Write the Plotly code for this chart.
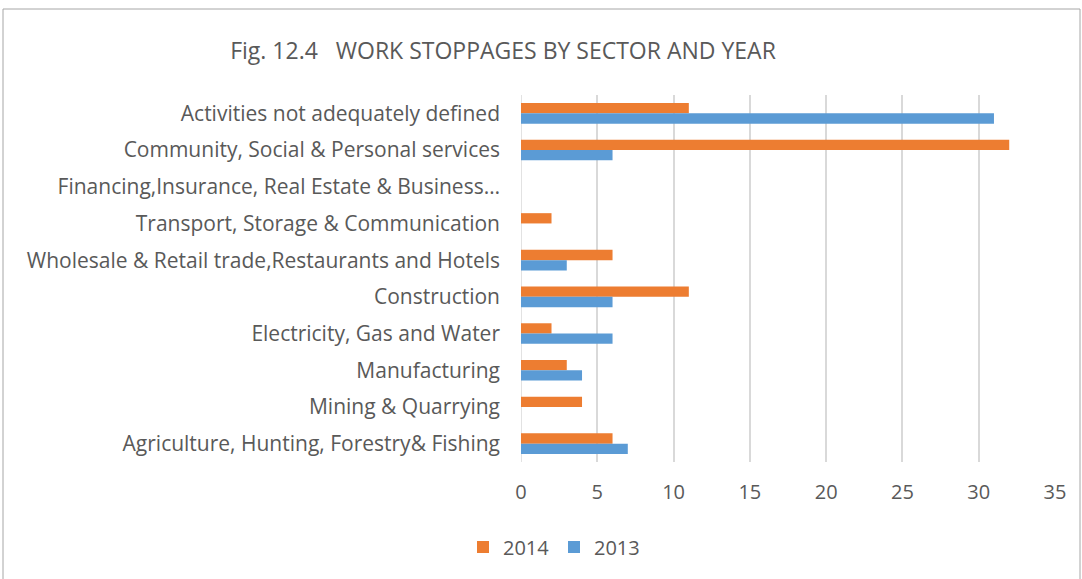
import plotly.graph_objects as go

categories = [
    "Activities not adequately defined",
    "Community, Social & Personal services",
    "Financing,Insurance, Real Estate & Business…",
    "Transport, Storage & Communication",
    "Wholesale & Retail trade,Restaurants and Hotels",
    "Construction",
    "Electricity, Gas and Water",
    "Manufacturing",
    "Mining & Quarrying",
    "Agriculture, Hunting, Forestry& Fishing",
]
values_2014 = [11, 32, 0, 2, 6, 11, 2, 3, 4, 6]
values_2013 = [31, 6, 0, 0, 3, 6, 6, 4, 0, 7]
x_ticks = [0, 5, 10, 15, 20, 25, 30, 35]

W, H = 1082, 579
L, R, T, B = 521, 1055, 95, 462

fig = go.Figure()
fig.add_trace(go.Bar(y=categories, x=values_2014, name="2014", orientation="h",
                     marker=dict(color="#ED7D31", line=dict(width=0))))
fig.add_trace(go.Bar(y=categories, x=values_2013, name="2013", orientation="h",
                     marker=dict(color="#5B9BD5", line=dict(width=0))))

font = "Open Sans"
pw, ph = R - L, B - T
fig.update_layout(
    width=W, height=H,
    margin=dict(l=L, r=W - R, t=T, b=H - B, autoexpand=False),
    paper_bgcolor="white", plot_bgcolor="white",
    barmode="group", bargap=0.44, bargroupgap=0,
    title=dict(text="Fig. 12.4   WORK STOPPAGES BY SECTOR AND YEAR",
               x=503 / W, xanchor="center", y=1 - 51 / H, yanchor="middle",
               font=dict(family=font, size=23, color="#595959")),
    xaxis=dict(range=[0, 35], tickvals=x_ticks, showgrid=True, gridcolor="#D9D9D9",
               gridwidth=1.5, zeroline=False, showline=False, ticklabelstandoff=16,
               tickfont=dict(family=font, size=20, color="#595959"), ticks=""),
    yaxis=dict(autorange="reversed", showgrid=False, zeroline=False, showline=False,
               ticks="", ticklabelstandoff=20,
               tickfont=dict(family=font, size=21, color="#595959")),
    legend=dict(orientation="h", x=(554 - L) / pw, xanchor="center",
                y=(B - 547) / ph, yanchor="middle", itemwidth=30, entrywidth=46,
                font=dict(family=font, size=20, color="#595959")),
    showlegend=True,
)
fig.add_shape(type="line", xref="x", yref="paper", x0=0, x1=0, y0=0, y1=1,
              line=dict(color="#D9D9D9", width=1.5), layer="below")
fig.add_shape(type="rect", xref="paper", yref="paper",
              x0=(3 - L) / pw, x1=(1080 - L) / pw,
              y0=(B - 600) / ph, y1=(B - 9) / ph,
              line=dict(color="#A6A6A6", width=1), layer="below")

fig.write_html("out.html", config={"displayModeBar": False},
               post_script="document.body.style.margin='0';")
